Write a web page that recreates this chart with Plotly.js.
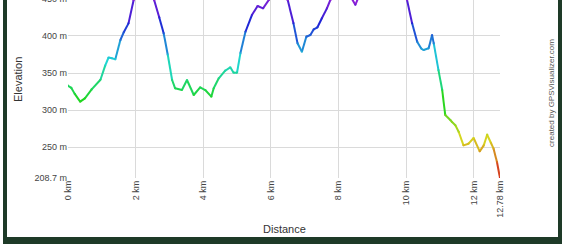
<!DOCTYPE html>
<html>
<head>
<meta charset="utf-8">
<script src="https://cdn.plot.ly/plotly-3.0.1.min.js"></script>
<style>
html,body{margin:0;padding:0;background:#fff;overflow:hidden;width:562px;height:244px;}
#plot{position:absolute;left:0;top:-18px;width:562px;height:262px;}
#frame{position:absolute;left:3px;top:-20px;width:551px;height:257px;border-left:4px solid #1e3a28;border-right:4px solid #1e3a28;border-bottom:7px solid #1e3a28;pointer-events:none;z-index:10;}
</style>
</head>
<body>
<div id="plot"></div>
<div id="frame"></div>
<script>
// Distance along track (km)
const distKm = [0.00,0.10,0.20,0.36,0.50,0.70,0.96,1.10,1.20,1.30,1.40,1.55,1.65,1.79,1.94,2.10,2.25,2.40,2.55,2.70,2.83,2.95,3.08,3.17,3.37,3.52,3.72,3.91,4.06,4.24,4.31,4.46,4.65,4.80,4.90,5.00,5.10,5.25,5.44,5.61,5.77,5.94,6.10,6.30,6.50,6.67,6.79,6.92,7.05,7.17,7.27,7.38,7.51,7.66,7.76,8.00,8.30,8.50,8.65,9.00,9.50,9.90,10.03,10.18,10.33,10.45,10.52,10.67,10.77,10.82,10.96,11.07,11.16,11.31,11.36,11.46,11.56,11.70,11.85,12.00,12.18,12.30,12.40,12.51,12.59,12.69,12.78];
// Elevation (m)
const elevM = [333,330,322,311.5,316,328,341,360,371,370,368.5,394.6,405,417,448,465,470,465,448,425,403.6,375,340.7,329.5,327.2,340.7,320.5,330.9,327.2,318.2,329.5,343,353.2,357.8,350.5,350.5,376.6,405.7,428.2,440.4,437.2,448.4,458,460,448.4,417,390.1,378.8,399,401.3,409,411.7,423.8,437.2,448.4,462,458,442,458,468,470,458,448.4,417,392.3,383,381.1,383.4,401.3,390,354,327.2,293.5,286.8,284.1,279.7,270.7,252.7,254.9,262.6,244.6,252.7,267,256.2,248.2,230.2,208.7];

const xTickVals = [0,2,4,6,8,10,12,12.78];
const xTickText = ['0 km','2 km','4 km','6 km','8 km','10 km','12 km','12.78 km'];
const yTickVals = [208.7,250,300,350,400,450,500];
const yTickText = ['208.7 m','250 m','300 m','350 m','400 m','450 m','500 m'];

const minE = Math.min(...elevM), maxE = Math.max(...elevM);
function colorFor(v){
  const t = Math.max(0, Math.min(1, (v - minE) / (maxE - minE)));
  const hue = 298 * t;
  return 'hsl(' + hue.toFixed(1) + ',75%,48%)';
}

const traces = [];
for (let i = 0; i < distKm.length - 1; i++) {
  traces.push({
    type: 'scatter', mode: 'lines',
    x: [distKm[i], distKm[i+1]],
    y: [elevM[i], elevM[i+1]],
    line: {color: colorFor((elevM[i] + elevM[i+1]) / 2), width: 2},
    hoverinfo: 'skip'
  });
}
traces.push({
  type: 'scatter', mode: 'markers', x: distKm, y: elevM,
  marker: {size: 2.2, color: elevM.map(colorFor), line: {width: 0}},
  hoverinfo: 'skip', cliponaxis: true
});

const font = 'Liberation Sans, Arial, sans-serif';
const layout = {
  width: 562, height: 262,
  margin: {l: 68, r: 62, t: 0, b: 66, pad: 0},
  paper_bgcolor: 'rgba(0,0,0,0)', plot_bgcolor: '#fff',
  showlegend: false,
  xaxis: {
    range: [0, 12.78], tickmode: 'array', tickvals: xTickVals, ticktext: xTickText,
    tickangle: -90, showgrid: true, gridcolor: '#dadada', gridwidth: 1,
    zeroline: false, showline: false, ticks: '',
    tickfont: {family: font, size: 9, color: '#444'}, fixedrange: true
  },
  yaxis: {
    range: [208.7, 472.7], tickmode: 'array', tickvals: yTickVals, ticktext: yTickText,
    showgrid: true, gridcolor: '#dadada', gridwidth: 1,
    zeroline: false, showline: false, ticks: '',
    tickfont: {family: font, size: 9, color: '#444'}, fixedrange: true
  },
  annotations: [
    {text: 'Distance', xref: 'paper', yref: 'paper', x: 0.5, y: 0, yshift: -51,
     xanchor: 'center', yanchor: 'middle', showarrow: false,
     font: {family: font, size: 11, color: '#333'}},
    {text: 'Elevation', xref: 'paper', yref: 'paper', x: 0, xshift: -50, y: 0.5,
     xanchor: 'center', yanchor: 'middle', textangle: -90, showarrow: false,
     font: {family: font, size: 11, color: '#333'}},
    {text: 'created by GPSVisualizer.com', xref: 'paper', yref: 'paper', x: 1, xshift: 52, y: 0.434,
     xanchor: 'center', yanchor: 'middle', textangle: -90, showarrow: false,
     font: {family: font, size: 8, color: '#555'}}
  ]
};

Plotly.newPlot('plot', traces, layout, {staticPlot: true, displayModeBar: false});
</script>
</body>
</html>
